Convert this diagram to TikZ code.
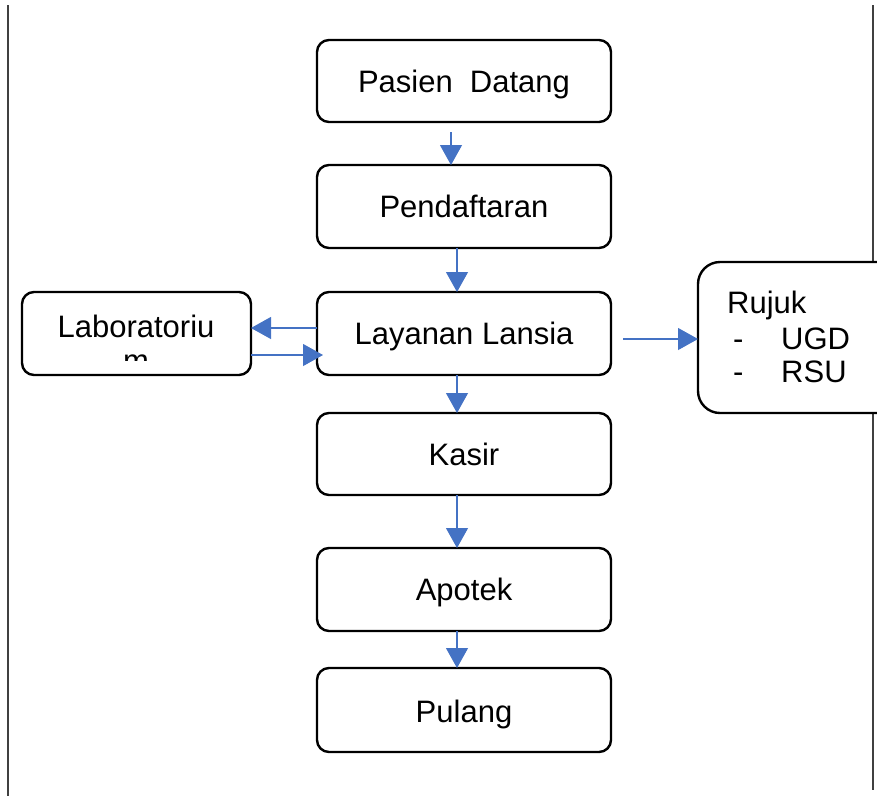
\documentclass[tikz,border=0pt]{standalone}
\usepackage{fontspec}
\setmainfont{Liberation Sans}
\usetikzlibrary{arrows.meta}
\definecolor{arrowblue}{HTML}{4472C4}
\tikzset{
  box/.style={draw=black, line width=2.4pt, rounded corners=12pt, fill=white},
  flow/.style={draw=arrowblue, line width=1.1pt, -{Triangle[length=20pt,width=22pt]}},
  txt/.style={font=\fontsize{31}{35}\selectfont, inner sep=0pt, anchor=base}
}
\begin{document}
\begin{tikzpicture}[x=1pt,y=-1pt]
\useasboundingbox (0,0) rectangle (877,796);
% page borders
\draw[line width=1.4pt, black!75] (8,5) -- (8,796);
\draw[line width=1.4pt, black!75] (873,5) -- (873,790);
% main boxes
\draw[box] (317,40) rectangle (611,122);
\node[txt] (pasien) at (464,92) {Pasien\ \ Datang};
\draw[box] (317,165) rectangle (611,248);
\node[txt] (daftar) at (464,217) {Pendaftaran};
\draw[box] (317,292) rectangle (611,375);
\node[txt] (layanan) at (464,344) {Layanan Lansia};
\draw[box] (317,413) rectangle (611,495);
\node[txt] (kasir) at (464,465) {Kasir};
\draw[box] (317,548) rectangle (611,631);
\node[txt] (apotek) at (464,600) {Apotek};
\draw[box] (317,668) rectangle (611,752);
\node[txt] (pulang) at (464,722) {Pulang};
% laboratorium
\draw[box] (22,292) rectangle (251,375);
\node[txt] (lab) at (136,337) {Laboratoriu};
\begin{scope}
\clip (30,300) rectangle (245,360);
\node[txt] (labm) at (136,371) {m};
\end{scope}
% rujuk
\draw[box, rounded corners=22pt] (698,262) rectangle (900,413);
\node[txt, anchor=base west] (rujuk) at (727,313) {Rujuk};
\node[txt, anchor=base west] (d1) at (733,349) {-};
\node[txt, anchor=base west] (ugd) at (781,349) {UGD};
\node[txt, anchor=base west] (d2) at (733,382) {-};
\node[txt, anchor=base west] (rsu) at (781,382) {RSU};
% coordinates for arrows
\coordinate (a1s) at (451,132); \coordinate (a1e) at (451,165);
\coordinate (a2s) at (457,248); \coordinate (a2e) at (457,292);
\coordinate (a3s) at (457,375); \coordinate (a3e) at (457,413);
\coordinate (a4s) at (457,495); \coordinate (a4e) at (457,548);
\coordinate (a5s) at (457,631); \coordinate (a5e) at (457,668);
\coordinate (l1s) at (317,328); \coordinate (l1e) at (251,328);
\coordinate (l2s) at (251,355); \coordinate (l2e) at (323,355);
\coordinate (r1s) at (623,339); \coordinate (r1e) at (698,339);
\draw[flow] (a1s) -- (a1e);
\draw[flow] (a2s) -- (a2e);
\draw[flow] (a3s) -- (a3e);
\draw[flow] (a4s) -- (a4e);
\draw[flow] (a5s) -- (a5e);
\draw[flow] (l1s) -- (l1e);
\draw[flow] (l2s) -- (l2e);
\draw[flow] (r1s) -- (r1e);
\end{tikzpicture}
\end{document}
